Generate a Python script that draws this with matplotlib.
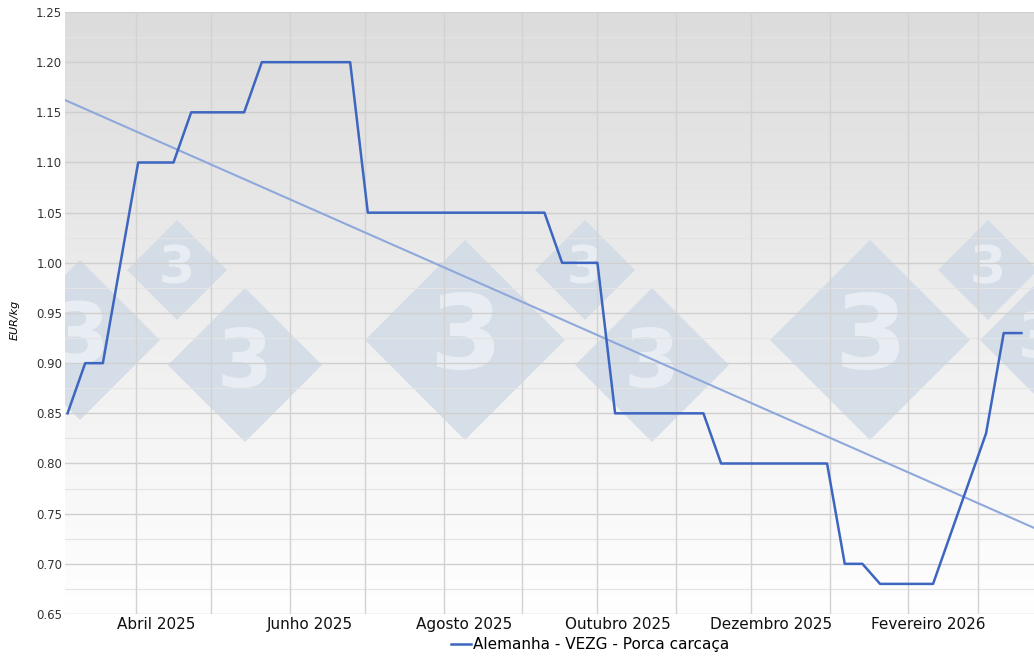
import numpy as np
import pandas as pd
import matplotlib
matplotlib.use("Agg")
import matplotlib.pyplot as plt
import matplotlib.dates as mdates
from matplotlib.patches import Polygon

# weekly prices, starting 5 Mar 2025
start = "2025-03-05"
prices = [0.85, 0.90, 0.90, 1.00, 1.10, 1.10, 1.10, 1.15, 1.15, 1.15,
          1.15, 1.20, 1.20, 1.20, 1.20, 1.20, 1.20, 1.05, 1.05, 1.05,
          1.05, 1.05, 1.05, 1.05, 1.05, 1.05, 1.05, 1.05, 1.00, 1.00,
          1.00, 0.85, 0.85, 0.85, 0.85, 0.85, 0.85, 0.80, 0.80, 0.80,
          0.80, 0.80, 0.80, 0.80, 0.70, 0.70, 0.68, 0.68, 0.68, 0.68,
          0.73, 0.78, 0.83, 0.93, 0.93]
dates = pd.date_range(start, periods=len(prices), freq="7D")
month_lines = pd.date_range("2025-04-01", "2026-03-01", freq="MS")
label_months = ["Abril 2025", "Junho 2025", "Agosto 2025", "Outubro 2025",
                "Dezembro 2025", "Fevereiro 2026"]
label_dates = pd.to_datetime(["2025-04-09", "2025-06-09", "2025-08-09",
                              "2025-10-09", "2025-12-09", "2026-02-09"])
yticks = np.arange(0.65, 1.2501, 0.05)

W, H = 1034, 657
fig = plt.figure(figsize=(W / 100, H / 100), dpi=100)
ax = fig.add_axes([65/W, 43/H, 969/W, 602/H])
xmin = mdates.date2num(pd.Timestamp("2025-03-04"))
xmax = mdates.date2num(pd.Timestamp("2026-03-23"))
ax.set_xlim(xmin, xmax)
ax.set_ylim(0.65, 1.25)

# background gradient
grad = np.linspace(0, 1, 256).reshape(-1, 1)
ax.imshow(grad, extent=[0, 1, 0, 1], transform=ax.transAxes, aspect="auto",
          cmap=matplotlib.colors.LinearSegmentedColormap.from_list("g", ["#ffffff", "#dcdcdc"]),
          origin="lower", zorder=0)

# watermark diamonds (pixel centre, half size)
for px, py, hs in [(80, 340, 80), (177, 270, 50), (245, 365, 77), (465, 340, 100),
                   (585, 270, 50), (652, 365, 77), (870, 340, 100), (988, 270, 50),
                   (1040, 340, 60)]:
    cx, cy = (px - 65) / 969, (614 - py) / 602
    rx, ry = hs / 969, hs / 602
    ax.add_patch(Polygon([(cx - rx, cy), (cx, cy + ry), (cx + rx, cy), (cx, cy - ry)],
                         closed=True, transform=ax.transAxes, facecolor="#cfdae6",
                         alpha=0.8, edgecolor="none", zorder=1))
    ax.text(cx, cy, "3", transform=ax.transAxes, ha="center", va="center",
            fontsize=hs * 0.75, fontweight="bold", color="#e8edf3", zorder=1,
            clip_on=True)

for y in np.arange(0.675, 1.25, 0.05):
    ax.axhline(y, color="#e4e4e4", lw=0.8, zorder=2)
for y in yticks:
    ax.axhline(y, color="#cfcfcf", lw=1, zorder=2)
for d in month_lines:
    ax.axvline(d, color="#d2d2d2", lw=1, zorder=2)

x = mdates.date2num(dates)
ax.plot(dates, prices, color="#3d66c0", lw=1.8, zorder=4,
        label="Alemanha - VEZG - Porca carcaça")
k, b = np.polyfit(x, prices, 1)
ax.plot([xmin, xmax], [k * xmin + b, k * xmax + b], color="#8fa8dc", lw=1.5, zorder=3)

ax.set_yticks(yticks)
ax.set_yticklabels([f"{v:.2f}" for v in yticks], fontsize=8.5, color="#333333")
ax.set_xticks(label_dates)
ax.set_xticklabels(label_months, fontsize=11, color="#111111")
ax.tick_params(length=0, pad=2)
for s in ax.spines.values():
    s.set_visible(False)
fig.text(15/W, 1 - 320/H, "EUR/kg", rotation=90, fontsize=8, style="italic",
         ha="center", va="center")
h, l = ax.get_legend_handles_labels()
fig.legend(h, l, loc="center", bbox_to_anchor=(590/W, 12/H), frameon=False,
           fontsize=11, handlelength=1.3, handletextpad=0.1, borderpad=0)
fig.savefig("out.png", dpi=100)
